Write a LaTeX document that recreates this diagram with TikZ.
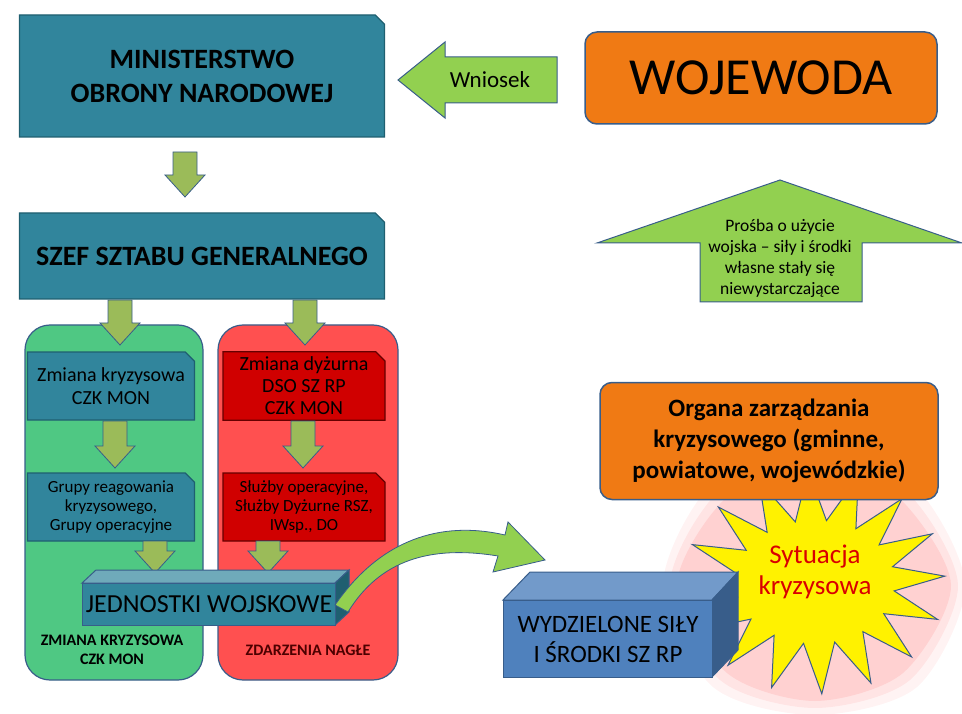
\documentclass[tikz,border=0pt]{standalone}
\usepackage{fontspec}
\setmainfont{Carlito}
\usetikzlibrary{shapes.misc,positioning}
\definecolor{teal}{HTML}{31859C}
\definecolor{tealdark}{HTML}{1F5F70}
\definecolor{lgreen}{HTML}{92D050}
\definecolor{agreen}{HTML}{9BBB59}
\definecolor{panelg}{HTML}{4FC883}
\definecolor{panelr}{HTML}{FF5050}
\definecolor{dred}{HTML}{D00000}
\definecolor{orng}{HTML}{F07A14}
\definecolor{bblue}{HTML}{4F81BD}
\definecolor{edge}{HTML}{385D8A}
\tikzset{
  bevel/.style={chamfered rectangle, chamfered rectangle corners=north east,
    chamfered rectangle xsep=6pt, fill=teal, draw=tealdark, line width=1.2pt,
    align=center, inner sep=2pt},
  redbox/.style={bevel, fill=dred, draw=red!40!black},
  blockarr/.style={fill=agreen, draw=edge, line width=0.8pt},
  orbox/.style={rounded corners=12pt, fill=orng, draw=edge, line width=1.5pt, align=center},
  panel/.style={rounded corners=25pt, draw=edge, line width=1.2pt}
}
% block arrow pointing down: x, top y, tip y
\newcommand\blockdown[3]{\draw[blockarr] ({#1-12},#2) -- ({#1+12},#2) -- ({#1+12},{#3-22})
  -- ({#1+20},{#3-22}) -- (#1,#3) -- ({#1-20},{#3-22}) -- ({#1-12},{#3-22}) -- cycle;}
\begin{document}
\begin{tikzpicture}[x=1pt,y=-1pt]
\useasboundingbox (0,0) rectangle (962,714);
% Starburst behind
\foreach \g/\o in {22/0.10,15/0.15,8/0.22} {
  \fill[red!45, opacity=\o] plot[smooth cycle, tension=0.5] coordinates {
    ({815+128+\g},585) ({815+75+\g},{585-80-\g}) (815,{585-115-\g}) ({815-80-\g},{585-80-\g})
    ({815-130-\g},585) ({815-80-\g},{585+80+\g}) (815,{585+108+\g}) ({815+80+\g},{585+80+\g})};
}
\draw[fill=yellow, draw=edge, line width=1pt] plot[samples at={0,...,31}]
  ({815+(mod(\x,2)==0 ? 130 : 80)*cos(\x*360/32+3)}, {582-(mod(\x,2)==0 ? 112 : 62)*sin(\x*360/32+3)}) -- cycle;
\node[text=red!85!black, font=\fontsize{27}{31}\selectfont, align=center] (syt) at (815,572) {Sytuacja\\kryzysowa};

% Top row
\node[bevel, minimum width=365pt, minimum height=122pt, font=\bfseries\fontsize{28}{34}\selectfont] (mon) at (202,76) {MINISTERSTWO\\OBRONY NARODOWEJ};
\node[orbox, minimum width=352pt, minimum height=92pt, font=\fontsize{52}{56}\selectfont] (woj) at (761,78) {WOJEWODA};
\draw[fill=lgreen, draw=edge, line width=1pt] (398,80) -- (445,42) -- (445,57) -- (557,57)
  -- (557,103) -- (445,103) -- (445,118) -- cycle;
\node[font=\fontsize{23}{26}\selectfont] (wn) at (490,80) {Wniosek};
\blockdown{185}{152}{197}
\node[bevel, minimum width=365pt, minimum height=86pt, font=\bfseries\fontsize{28}{32}\selectfont] (szef) at (202,256) {SZEF SZTABU GENERALNEGO};
% Up arrow
\draw[fill=lgreen, draw=edge, line width=1pt] (780,180) -- (962,243) -- (862,243) -- (862,302)
  -- (700,302) -- (700,243) -- (597,243) -- cycle;
\node[align=center, font=\fontsize{17.5}{21}\selectfont] (prosba) at (780,258)
  {Prośba o użycie\\wojska -- siły i środki\\własne stały się\\niewystarczające};

% Panels
\draw[panel, fill=panelg] (25,325) rectangle (203,680);
\draw[panel, fill=panelr] (218,325) rectangle (398,680);
\blockdown{120}{300}{345}
\blockdown{305}{300}{345}
\node[bevel, minimum width=167pt, minimum height=68pt, font=\fontsize{20}{23}\selectfont] (zk) at (111,386) {Zmiana kryzysowa\\CZK MON};
\node[redbox, minimum width=162pt, minimum height=68pt, font=\fontsize{20}{22}\selectfont] (zd) at (304,386) {Zmiana dyżurna\\DSO SZ RP\\CZK MON};
\blockdown{115}{421}{468}
\blockdown{303}{421}{468}
\node[bevel, minimum width=167pt, minimum height=68pt, font=\fontsize{17}{19}\selectfont] (gr) at (111,507) {Grupy reagowania\\kryzysowego,\\Grupy operacyjne};
\node[redbox, minimum width=162pt, minimum height=68pt, font=\fontsize{17}{19}\selectfont] (sl) at (304,507) {Służby operacyjne,\\Służby Dyżurne RSZ,\\IWsp., DO};
\blockdown{155}{541}{573}
\blockdown{268}{541}{573}

% Jednostki 3D box
\fill[teal!70!white, draw=edge, line width=1pt] (82,583) -- (96,570) -- (349,570) -- (335,583) -- cycle;
\fill[tealdark, draw=edge, line width=1pt] (335,583) -- (349,570) -- (349,612) -- (335,625) -- cycle;
\node[draw=edge, line width=1pt, fill=teal, minimum width=253pt, minimum height=42pt,
  anchor=north west, font=\fontsize{26}{30}\selectfont] (jw) at (82,583) {JEDNOSTKI WOJSKOWE};
\node[font=\bfseries\fontsize{16}{19}\selectfont, align=center] (lz) at (112,650) {ZMIANA KRYZYSOWA\\CZK MON};
\node[font=\bfseries\fontsize{16}{19}\selectfont, text=red!30!black] (lzn) at (308,650) {ZDARZENIA NAGŁE};

% Curved arrow
\fill[lgreen, draw=edge, line width=0.8pt] (335,605) .. controls (380,540) and (440,520) .. (505,535)
  -- (508,522) -- (545,560) -- (493,572) -- (498,556) .. controls (430,545) and (380,560) .. (348,612) -- cycle;

% Wydzielone 3D box
\fill[bblue!80!white, draw=edge, line width=1pt] (503,600) -- (530,572) -- (738,572) -- (712,600) -- cycle;
\fill[edge, draw=edge, line width=1pt] (712,600) -- (738,572) -- (738,650) -- (712,677) -- cycle;
\node[draw=edge, line width=1pt, fill=bblue, minimum width=209pt, minimum height=77pt,
  anchor=north west, align=center, font=\fontsize{25}{30}\selectfont] (wyd) at (503,600) {WYDZIELONE SIŁY\\I ŚRODKI SZ RP};

% Organa
\node[orbox, minimum width=338pt, minimum height=117pt, font=\bfseries\fontsize{25}{31}\selectfont] (org) at (769,441) {Organa zarządzania\\kryzysowego (gminne,\\powiatowe, wojewódzkie)};
\end{tikzpicture}
\end{document}
